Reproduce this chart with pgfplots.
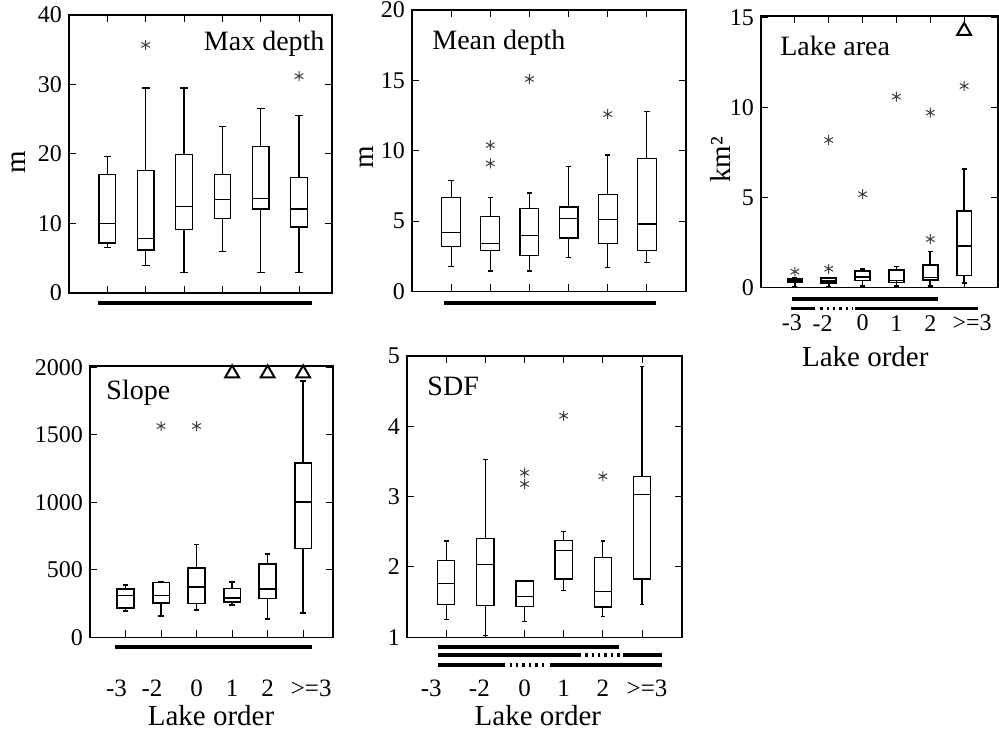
\documentclass[border=0pt]{standalone}
\usepackage{fontspec}
\setmainfont{Liberation Serif}
\usepackage{pgfplots}
\pgfplotsset{compat=1.18}
\usepgfplotslibrary{statistics}

\pgfplotsset{
  bxs/.style={black, line width=0.6pt},
  star/.style={only marks, mark=asterisk, mark size=2.5pt, black!75, mark options={line width=0.5pt}},
  tri/.style={only marks, mark=triangle, mark size=4pt, black, mark options={line width=1pt}},
  panel/.style={
    scale only axis, clip=false, anchor=south west,
    boxplot/draw direction=y,
    xmin=0, xtick={1,...,6}, xticklabels={},
    tick align=inside, major tick length=3.5pt,
    axis line style={line width=0.6pt},
    every tick/.style={black, line width=0.5pt},
    /pgf/number format/assume math mode=true,
    /pgf/number format/1000 sep={},
    yticklabel style={font=\fontsize{12}{13}\selectfont},
    xticklabel style={font=\fontsize{12.5}{13}\selectfont},
    every axis y label/.style={rotate=90, anchor=center, font=\fontsize{14.5}{16}\selectfont},
    every axis x label/.style={anchor=center, font=\fontsize{14.5}{16}\selectfont},
  },
  lo/.style={xticklabel style={anchor=center, yshift=-#1}},
}
\newcommand{\bx}[6]{\addplot[bxs, boxplot prepared={draw position=#1, lower whisker=#2, lower quartile=#3, median=#4, upper quartile=#5, upper whisker=#6}] coordinates {};}
\newcommand{\ttl}{\fontsize{14}{15}\selectfont}
\tikzset{ttlnode/.style={inner sep=0pt, font=\ttl}}

\begin{document}
\begin{tikzpicture}
\path[use as bounding box] (0,0) rectangle (499.5pt,366.5pt);

% ---------------- Max depth
\begin{axis}[panel, at={(34.5pt,220pt)}, width=131.5pt, height=139pt,
  xmax=6.86, ymin=0, ymax=40, ytick={0,10,20,30,40},
  ylabel={m}, every axis y label/.append style={at={(axis description cs:-0.19,0.47)}},
  boxplot/box extend=0.43, boxplot/whisker extend=0.2]
\bx{1}{6.5}{7.2}{10.0}{17.1}{19.6}
\bx{2}{4.0}{6.2}{7.8}{17.6}{29.5}
\bx{3}{3.0}{9.1}{12.5}{19.9}{29.5}
\bx{4}{6.0}{10.7}{13.5}{17.1}{24.0}
\bx{5}{3.0}{12.1}{13.6}{21.1}{26.6}
\bx{6}{3.0}{9.5}{12.1}{16.6}{25.5}
\addplot[star] coordinates {(2,35.7) (6,31.2)};
\node[anchor=base east, ttlnode] at (axis description cs:0.973,0.874) {Max depth};
\draw[line width=2pt] (axis cs:0.756,-1.44) -- (axis cs:6.34,-1.44);
\end{axis}

% ---------------- Mean depth
\begin{axis}[panel, at={(206pt,220.75pt)}, width=137pt, height=140.75pt,
  xmax=7, ymin=0, ymax=20, ytick={0,5,10,15,20},
  ylabel={m}, every axis y label/.append style={at={(axis description cs:-0.164,0.478)}},
  boxplot/box extend=0.48, boxplot/whisker extend=0.14]
\bx{1}{1.8}{3.2}{4.2}{6.7}{7.9}
\bx{2}{1.45}{2.9}{3.4}{5.3}{6.7}
\bx{3}{1.45}{2.55}{4.0}{5.9}{7.0}
\bx{4}{2.4}{3.8}{5.2}{6.0}{8.9}
\bx{5}{1.7}{3.4}{5.1}{6.9}{9.7}
\bx{6}{2.05}{2.9}{4.8}{9.45}{12.8}
\addplot[star] coordinates {(2,10.4) (2,9.1) (3,15.1) (5,12.6)};
\node[anchor=base west, ttlnode] at (axis description cs:0.073,0.861) {Mean depth};
\draw[line width=2pt] (axis cs:0.82,-0.82) -- (axis cs:6.23,-0.82);
\end{axis}

% ---------------- Lake area
\begin{axis}[panel, lo=17.9pt, at={(380.5pt,222.85pt)}, width=118.5pt, height=135.65pt,
  xmax=7, ymin=0, ymax=15.07, ytick={0,5,10,15},
  xticklabels={\hspace*{-3pt}-3,\hspace*{-6pt}-2,0,1,2,\hspace*{8pt}>=3},
  xticklabel style={font=\fontsize{12}{13}\selectfont},
  ylabel={km²}, every axis y label/.append style={at={(axis description cs:-0.173,0.47)}},
  xlabel={Lake order}, every axis x label/.append style={at={(axis description cs:0.44,-0.257)}},
  bxs/.style={black, line width=0.85pt},
  boxplot/box extend=0.44, boxplot/whisker extend=0.15]
\bx{1}{0.05}{0.29}{0.35}{0.46}{0.5}
\bx{2}{0.05}{0.22}{0.36}{0.5}{0.55}
\bx{3}{0.07}{0.37}{0.59}{0.92}{1.02}
\bx{4}{0.07}{0.26}{0.37}{0.96}{1.15}
\bx{5}{0.07}{0.41}{0.55}{1.24}{1.98}
\bx{6}{0.22}{0.65}{2.31}{4.22}{6.59}
\addplot[star] coordinates {(1,0.87) (2,1.03) (2,8.18) (3,5.17) (4,10.59) (5,2.68) (5,9.70) (6,11.18)};
\addplot[tri] coordinates {(6,14.24)};
\node[anchor=base west, ttlnode] at (axis description cs:0.08,0.856) {Lake area};
\draw[line width=1.6pt] (axis cs:0.92,-0.65) -- (axis cs:5.22,-0.65);
\draw[line width=1.6pt] (axis cs:0.88,-1.2) -- (axis cs:1.6,-1.2);
\draw[line width=1.6pt, dash pattern=on 1.2pt off 2pt] (axis cs:1.75,-1.2) -- (axis cs:2.72,-1.2);
\draw[line width=1.6pt] (axis cs:2.78,-1.2) -- (axis cs:6.41,-1.2);
\end{axis}

% ---------------- Slope
\begin{axis}[panel, lo=25.4pt, at={(45pt,47.85pt)}, width=121.5pt, height=135.65pt,
  xmax=6.84, ymin=0, ymax=2010, ytick={0,500,1000,1500,2000},
  xticklabels={\hspace*{-9pt}-3,\hspace*{-9pt}-2,0,1,2,\hspace*{8pt}>=3},
  xtick pos=bottom,
  xlabel={Lake order}, every axis x label/.append style={at={(axis description cs:0.498,-0.29)}},
  bxs/.style={black, line width=0.85pt},
  boxplot/box extend=0.47, boxplot/whisker extend=0.15]
\bx{1}{195}{215}{309}{357}{389}
\bx{2}{156}{252}{309}{406}{411}
\bx{3}{203}{250}{371}{515}{688}
\bx{4}{240}{262}{292}{361}{411}
\bx{5}{138}{287}{357}{545}{619}
\bx{6}{178}{659}{1000}{1289}{1900}
\addplot[star] coordinates {(2,1565) (3,1565)};
\addplot[tri] coordinates {(4,1955) (5,1955) (6,1955)};
\node[anchor=base west, ttlnode] at (axis description cs:0.066,0.877) {Slope};
\draw[line width=2pt] (axis cs:0.70,-72) -- (axis cs:6.25,-72);
\end{axis}

% ---------------- SDF
\begin{axis}[panel, lo=25.4pt, at={(203.5pt,47.85pt)}, width=137.5pt, height=140.65pt,
  xmax=7.02, ymin=1, ymax=5, ytick={1,2,3,4,5},
  xticklabels={\hspace*{-15pt}-3,\hspace*{-6pt}-2,0,1,2,\hspace*{5pt}>=3},
  xlabel={Lake order}, every axis x label/.append style={at={(axis description cs:0.476,-0.28)}},
  boxplot/box extend=0.44, boxplot/whisker extend=0.12]
\bx{1}{1.25}{1.47}{1.76}{2.09}{2.37}
\bx{2}{1.03}{1.45}{2.03}{2.40}{3.53}
\bx{3}{1.22}{1.44}{1.58}{1.80}{1.80}
\bx{4}{1.67}{1.83}{2.23}{2.38}{2.50}
\bx{5}{1.30}{1.43}{1.65}{2.13}{2.37}
\bx{6}{1.47}{1.83}{3.03}{3.29}{4.85}
\addplot[star] coordinates {(3,3.34) (3,3.18) (4,4.15) (5,3.29)};
\node[anchor=base west, ttlnode] at (axis description cs:0.073,0.861) {SDF};
\draw[line width=1.6pt] (axis cs:0.79,0.862) -- (axis cs:5.41,0.862);
\draw[line width=1.6pt] (axis cs:0.79,0.748) -- (axis cs:4.44,0.748);
\draw[line width=1.6pt, dash pattern=on 1.2pt off 2pt] (axis cs:4.55,0.748) -- (axis cs:5.45,0.748);
\draw[line width=1.6pt] (axis cs:5.51,0.748) -- (axis cs:6.51,0.748);
\draw[line width=1.6pt] (axis cs:0.79,0.606) -- (axis cs:2.50,0.606);
\draw[line width=1.6pt, dash pattern=on 1.2pt off 2pt] (axis cs:2.62,0.606) -- (axis cs:3.55,0.606);
\draw[line width=1.6pt] (axis cs:3.65,0.606) -- (axis cs:6.51,0.606);
\end{axis}
\end{tikzpicture}
\end{document}
